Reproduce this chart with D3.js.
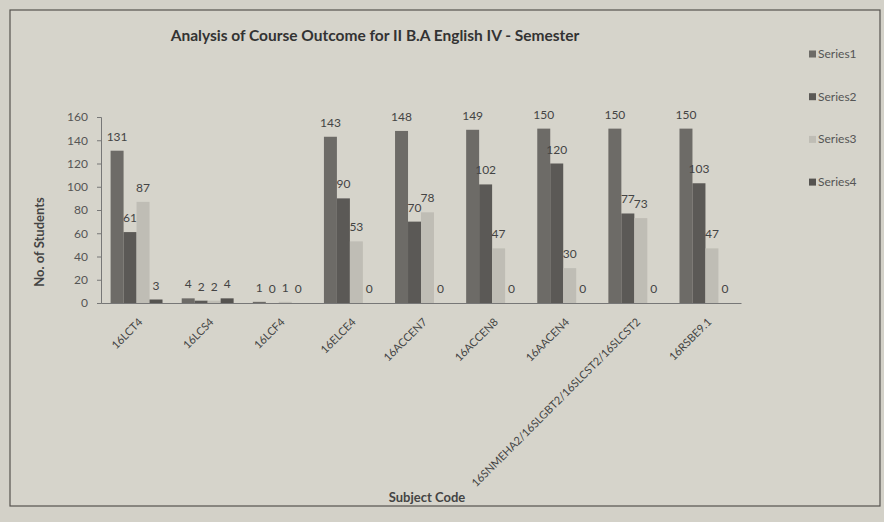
<!DOCTYPE html>
<html><head><meta charset="utf-8">
<script src="https://cdn.jsdelivr.net/npm/d3@7"></script>
<style>body{margin:0;background:#d3d1c8;} text{font-family:Lato, "Open Sans", sans-serif;}</style>
</head><body>
<svg id="c" width="884" height="522"></svg>
<script>
const categories = ["16LCT4","16LCS4","16LCF4","16ELCE4","16ACCEN7","16ACCEN8","16AACEN4","16SNMEHA2/16SLGBT2/16SLCST2/16SLCST2","16RSBE9.1"];
const seriesNames = ["Series1","Series2","Series3","Series4"];
const series1 = [131,4,1,143,148,149,150,150,150];
const series2 = [61,2,0,90,70,102,120,77,103];
const series3 = [87,2,1,53,78,47,30,73,47];
const series4 = [3,4,0,0,0,0,0,0,0];
const yTicks = [0,20,40,60,80,100,120,140,160];
const seriesValues = [series1,series2,series3,series4];
const colors = ["#6d6b67","#5b5956","#bfbdb5","#555350"];

const svg = d3.select("#c");
svg.append("rect").attr("x",0).attr("y",0).attr("width",884).attr("height",522).attr("fill","#d3d1c8");
svg.append("rect").attr("x",10).attr("y",10).attr("width",870).attr("height",496)
  .attr("fill","#d6d4cb").attr("stroke","#55534f").attr("stroke-width",1.2);

const x = d3.scaleBand().domain(categories).range([101,741]).paddingInner(0.27).paddingOuter(0.135);
const xs = d3.scaleBand().domain(seriesNames).range([0,x.bandwidth()]);
const y = d3.scaleLinear().domain([0,160]).range([303,117]);

// y axis
const ya = svg.append("g").attr("transform","translate(101,0)")
  .call(d3.axisLeft(y).tickValues(yTicks).tickSize(4).tickPadding(9));
ya.select(".domain").attr("stroke","#777");
ya.selectAll(".tick line").attr("stroke","#777");
ya.selectAll(".tick text").attr("fill","#555").attr("font-size",12);

// bars
const groups = svg.append("g").selectAll("g").data(categories).join("g")
  .attr("transform",d=>`translate(${x(d)},0)`);
seriesNames.forEach((s,si)=>{
  groups.append("rect")
    .attr("x",xs(s)).attr("width",xs.bandwidth())
    .attr("y",(d,i)=>y(seriesValues[si][i]))
    .attr("height",(d,i)=>y(0)-y(seriesValues[si][i]))
    .attr("fill",colors[si]);
  groups.append("text")
    .attr("x",xs(s)+xs.bandwidth()/2)
    .attr("y",(d,i)=>y(seriesValues[si][i])-10)
    .attr("text-anchor","middle").attr("font-size",12).attr("fill","#444")
    .text((d,i)=>seriesValues[si][i]);
});

// x axis
const xa = svg.append("g").attr("transform","translate(0,303)")
  .call(d3.axisBottom(x).tickSize(0).tickPadding(0));
xa.select(".domain").attr("stroke","#777");
xa.selectAll(".tick text").attr("fill","#444").attr("font-size",11)
  .attr("text-anchor","end").attr("y",0).attr("dy","0.35em")
  .attr("transform","translate(4,17) rotate(-45)");

// titles
svg.append("text").attr("x",375).attr("y",41).attr("text-anchor","middle")
  .attr("font-size",15.5).attr("font-weight","bold").attr("fill","#333")
  .text("Analysis  of Course Outcome for II B.A English IV - Semester");
svg.append("text").attr("transform","translate(44,242) rotate(-90)").attr("text-anchor","middle")
  .attr("font-size",13).attr("font-weight","bold").attr("fill","#444").text("No. of Students");
svg.append("text").attr("x",427).attr("y",502).attr("text-anchor","middle")
  .attr("font-size",13).attr("font-weight","bold").attr("fill","#444").text("Subject Code");

// legend
const lg = svg.append("g").selectAll("g").data(seriesNames).join("g")
  .attr("transform",(d,i)=>`translate(809,${54+i*42.7})`);
lg.append("rect").attr("x",0).attr("y",-3.5).attr("width",7).attr("height",7).attr("fill",(d,i)=>colors[i]);
lg.append("text").attr("x",9).attr("y",4).attr("font-size",12).attr("fill","#555").text(d=>d);
</script>
</body></html>
